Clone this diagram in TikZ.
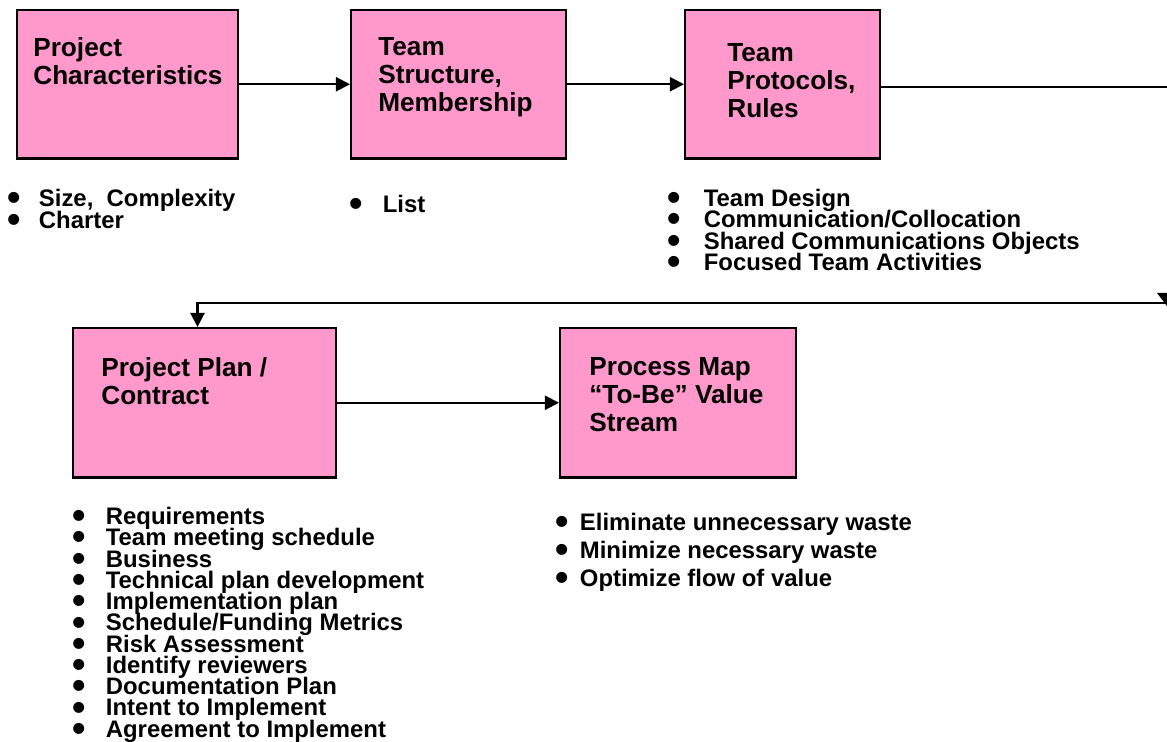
\documentclass[tikz,border=0pt]{standalone}
\usepackage{fontspec}
\usepackage{graphicx}
\setmainfont{Liberation Sans}
\usetikzlibrary{arrows.meta}
\definecolor{boxpink}{HTML}{FF99CC}
\newlength{\bgap}
\newcommand{\bl}{\makebox[\bgap][l]{\raisebox{-0.17em}{\scalebox{1.6}{\textbullet}}}}
\def\upx{0.5669pt}
\tikzset{
  stepbox/.style={draw=black, fill=boxpink, line width=1.2pt, rectangle, anchor=north west, inner sep=0pt},
  title/.style={anchor=north west, inner sep=0pt, align=left, font=\fontsize{14.9}{15.9}\selectfont\bfseries},
  bullets/.style args={#1/#2}{anchor=north west, inner sep=0pt, align=left,
    font={\fontsize{13.6}{#1}\selectfont\bfseries\lineskiplimit=-20pt\setlength{\bgap}{#2}}},
  link/.style={line width=1.2pt, -{Triangle[length=8pt,width=8pt]}}
}
\begin{document}
\begin{tikzpicture}[x=0.02cm, y=-0.02cm]
    \useasboundingbox (0,0) rectangle (1167,742);
    % boxes
    \node[stepbox, minimum width=222*\upx, minimum height=149*\upx] (b1) at (16,9) {};
    \node[stepbox, minimum width=216*\upx, minimum height=149*\upx] (b2) at (350,9) {};
    \node[stepbox, minimum width=196*\upx, minimum height=149*\upx] (b3) at (684,9) {};
    \node[stepbox, minimum width=264*\upx, minimum height=150*\upx] (b4) at (72,327) {};
    \node[stepbox, minimum width=237*\upx, minimum height=150*\upx] (b5) at (559,327) {};
    % titles
    \node[title] (t1) at ([shift={(17,28)}]b1.north west) {Project\\Characteristics};
    \node[title] (t2) at ([shift={(28,28)}]b2.north west) {Team\\Structure,\\Membership};
    \node[title] (t3) at ([shift={(43,34)}]b3.north west) {Team\\Protocols,\\Rules};
    \node[title] (t4) at ([shift={(29,30)}]b4.north west) {Project Plan /\\Contract};
    \node[title] (t5) at ([shift={(30,30)}]b5.north west) {Process Map\\``To-Be'' Value\\Stream};
    % lists
    \node[bullets=12.5pt/17.7pt] (l1) at (7.5,189) {\bl Size,~ Complexity\\\bl Charter};
    \node[bullets=12.5pt/18.8pt] (l2) at (349.5,195) {\bl List};
    \node[bullets=12.1pt/20.5pt] (l3) at (667.5,189) {\bl Team Design\\\bl Communication/Collocation\\\bl Shared Communications Objects\\\bl Focused Team Activities};
    \node[bullets=12.1pt/18.8pt] (l4) at (72.5,507) {\bl Requirements\\\bl Team meeting schedule\\\bl Business\\\bl Technical plan development\\\bl Implementation plan\\\bl Schedule/Funding Metrics\\\bl Risk Assessment\\\bl Identify reviewers\\\bl Documentation Plan\\\bl Intent to Implement\\\bl Agreement to Implement};
    \node[bullets=15.9pt/13.7pt] (l5) at (555.5,513) {\bl Eliminate unnecessary waste\\\bl Minimize necessary waste\\\bl Optimize flow of value};
    % connectors
    \coordinate (turnA) at (1180,87);
    \coordinate (turnB) at (1180,303);
    \draw[link] (b1.east) -- (b2.west);
    \draw[link] (b2.east) -- (b3.west);
    \draw[line width=1.2pt] (b3.east |- turnA) -- (turnA) -- (turnB);
    \fill (1157,293) -- (1177,293) -- (1167,306) -- cycle;
    \draw[link] (turnB) -| ([xshift=-4pt]b4.north);
    \draw[link] (b4.east) -- (b5.west);
\end{tikzpicture}
\end{document}
